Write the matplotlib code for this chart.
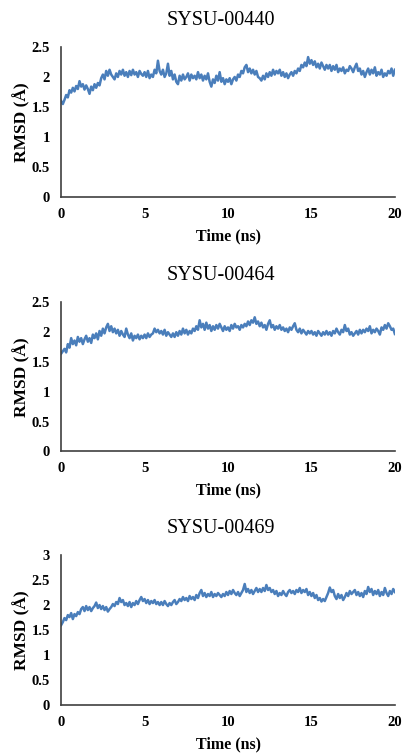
import matplotlib
matplotlib.use("Agg")
import matplotlib.pyplot as plt
import numpy as np

# RMSD traces (Å), every 0.1 ns from 0 to 20 ns
titles = ["SYSU-00440", "SYSU-00464", "SYSU-00469"]

rmsd_00440 = [
    1.60, 1.55, 1.62, 1.70, 1.66, 1.78, 1.74, 1.82, 1.76, 1.85,
    1.80, 1.93, 1.84, 1.88, 1.79, 1.86, 1.80, 1.72, 1.84, 1.78,
    1.88, 1.82, 1.90, 1.86, 1.98, 2.04, 1.96, 2.10, 2.02, 2.12,
    2.04, 2.00, 1.96, 2.06, 2.00, 2.10, 2.04, 2.12, 2.02, 2.08,
    2.00, 2.10, 2.03, 2.12, 2.04, 2.08, 2.00, 2.10, 2.05, 2.02,
    2.08, 2.00, 2.10, 1.98, 2.04, 2.00, 2.12, 2.06, 2.27, 2.10,
    2.04, 2.12, 2.00, 2.06, 2.22, 2.02, 2.10, 1.96, 2.04, 1.92,
    1.88, 2.02, 1.94, 2.04, 1.96, 2.00, 2.06, 1.94, 2.04, 1.98,
    2.02, 1.96, 2.08, 1.98, 2.04, 1.94, 2.02, 1.96, 2.06, 1.92,
    1.84, 1.96, 1.90, 2.02, 1.94, 2.08, 1.92, 1.98, 1.88, 1.96,
    1.92, 1.98, 1.88, 1.96, 2.00, 1.94, 2.04, 2.00, 2.10, 2.06,
    2.16, 2.20, 2.08, 2.14, 2.06, 2.12, 2.04, 2.10, 2.00, 1.98,
    1.94, 2.02, 1.96, 2.06, 2.00, 2.08, 2.02, 2.12, 2.04, 2.10,
    2.06, 2.12, 2.02, 2.08, 2.00, 2.06, 1.98, 2.04, 2.08, 2.02,
    2.10, 2.06, 2.14, 2.10, 2.20, 2.16, 2.24, 2.18, 2.33, 2.22,
    2.28, 2.20, 2.26, 2.16, 2.22, 2.14, 2.24, 2.18, 2.12, 2.20,
    2.14, 2.20, 2.10, 2.18, 2.12, 2.20, 2.08, 2.14, 2.10, 2.16,
    2.06, 2.12, 2.10, 2.18, 2.14, 2.08, 2.16, 2.22, 2.10, 2.14,
    2.04, 2.10, 2.00, 2.08, 2.14, 2.04, 2.12, 2.06, 2.16, 2.02,
    2.08, 2.04, 2.12, 2.00, 2.06, 2.02, 2.10, 2.06, 2.14, 2.02, 2.12,
]

rmsd_00464 = [
    1.64, 1.68, 1.72, 1.66, 1.80, 1.74, 1.90, 1.80, 1.86, 1.78,
    1.92, 1.84, 1.90, 1.80, 1.88, 1.94, 1.84, 1.90, 1.82, 1.96,
    1.90, 1.98, 1.88, 2.02, 1.94, 2.06, 1.98, 2.08, 2.14, 2.02,
    2.10, 2.00, 2.06, 1.98, 2.04, 1.94, 2.02, 1.96, 1.92, 2.06,
    1.96, 1.90, 1.98, 1.86, 1.94, 1.90, 1.96, 1.88, 1.94, 1.90,
    1.96, 1.90, 1.98, 1.92, 1.96, 1.98, 2.06, 2.00, 2.04, 1.98,
    2.02, 1.96, 2.04, 1.94, 2.00, 1.96, 1.92, 1.98, 1.92, 2.00,
    1.94, 2.02, 1.96, 2.06, 1.98, 2.04, 1.96, 2.02, 1.98, 2.06,
    2.02, 2.10, 2.04, 2.20, 2.08, 2.14, 2.04, 2.16, 2.06, 2.12,
    2.02, 2.10, 2.04, 2.12, 2.06, 2.14, 2.08, 2.02, 2.10, 2.04,
    2.08, 2.02, 2.12, 2.06, 2.14, 2.08, 2.10, 2.04, 2.12, 2.08,
    2.14, 2.10, 2.18, 2.12, 2.20, 2.16, 2.25, 2.14, 2.18, 2.10,
    2.16, 2.08, 2.12, 2.04, 2.14, 2.20, 2.08, 2.12, 2.04, 2.10,
    2.06, 2.12, 2.04, 2.08, 2.02, 2.06, 2.00, 2.08, 2.04, 2.10,
    2.15, 2.04, 2.00, 2.06, 1.98, 2.04, 2.00, 1.96, 2.02, 1.98,
    2.02, 1.96, 2.00, 1.94, 2.02, 1.98, 1.94, 2.00, 1.96, 2.02,
    1.96, 2.00, 1.94, 2.02, 1.98, 2.06, 2.00, 1.96, 2.04, 2.00,
    2.12, 2.02, 2.06, 1.96, 2.00, 1.94, 1.98, 2.02, 1.96, 2.04,
    1.98, 2.04, 2.00, 2.06, 2.02, 2.10, 1.98, 2.04, 2.00, 2.06,
    2.02, 1.96, 2.08, 2.04, 2.12, 2.06, 2.15, 2.10, 2.04, 2.06, 1.97,
]

rmsd_00469 = [
    1.60, 1.66, 1.74, 1.70, 1.80, 1.76, 1.84, 1.72, 1.82, 1.78,
    1.86, 1.82, 1.92, 1.96, 1.88, 1.98, 1.90, 1.96, 1.88, 1.94,
    1.98, 2.05, 1.94, 2.00, 1.92, 1.98, 1.90, 1.96, 1.87, 1.92,
    1.96, 2.02, 1.98, 2.06, 2.02, 2.14, 2.06, 2.10, 2.00, 2.04,
    1.98, 2.06, 1.96, 2.04, 2.00, 2.08, 2.02, 2.10, 2.16, 2.08,
    2.12, 2.04, 2.10, 2.02, 2.08, 2.04, 2.10, 2.02, 2.06, 2.00,
    2.06, 2.00, 2.08, 2.02, 1.98, 2.04, 2.00, 2.06, 2.10, 2.02,
    2.06, 2.12, 2.08, 2.16, 2.10, 2.14, 2.08, 2.18, 2.12, 2.16,
    2.10, 2.20, 2.14, 2.24, 2.30, 2.18, 2.24, 2.16, 2.22, 2.18,
    2.26, 2.16, 2.22, 2.18, 2.24, 2.20, 2.16, 2.22, 2.18, 2.26,
    2.20, 2.28, 2.22, 2.30, 2.24, 2.20, 2.26, 2.18, 2.24, 2.30,
    2.42, 2.26, 2.32, 2.24, 2.30, 2.22, 2.28, 2.34, 2.26, 2.32,
    2.26, 2.34, 2.28, 2.40, 2.30, 2.34, 2.26, 2.30, 2.22, 2.28,
    2.18, 2.24, 2.20, 2.28, 2.22, 2.18, 2.26, 2.30, 2.24, 2.28,
    2.22, 2.30, 2.26, 2.34, 2.24, 2.30, 2.26, 2.32, 2.20, 2.26,
    2.18, 2.24, 2.14, 2.20, 2.10, 2.14, 2.07, 2.12, 2.08, 2.16,
    2.24, 2.35, 2.26, 2.30, 2.18, 2.12, 2.22, 2.14, 2.20, 2.10,
    2.16, 2.24, 2.18, 2.28, 2.22, 2.26, 2.30, 2.20, 2.26, 2.18,
    2.24, 2.16, 2.28, 2.22, 2.36, 2.26, 2.32, 2.20, 2.28, 2.22,
    2.30, 2.18, 2.26, 2.20, 2.34, 2.24, 2.18, 2.28, 2.22, 2.32, 2.26,
]

series = [rmsd_00440, rmsd_00464, rmsd_00469]
y_tops = [2.5, 2.5, 3.0]
x_ticks = [0, 5, 10, 15, 20]

plt.rcParams['font.family'] = ['Liberation Serif', 'DejaVu Serif']

fig = plt.figure(figsize=(4.05, 7.56), dpi=100)

# axes boxes in figure fractions [left, bottom, width, height]
boxes = [
    [0.151, 0.739, 0.824, 0.199],
    [0.151, 0.403, 0.824, 0.197],
    [0.151, 0.067, 0.824, 0.199],
]

line_color = '#4A7EBB'
spine_color = '#404040'

for title, vals, ytop, box in zip(titles, series, y_tops, boxes):
    ax = fig.add_axes(box)
    t = np.linspace(0, 20, len(vals))
    ax.plot(t, vals, color=line_color, lw=1.8)

    ax.set_xlim(0, 20)
    ax.set_ylim(0, ytop)
    yt = np.arange(0, ytop + 0.01, 0.5)
    ax.set_xticks(x_ticks)
    ax.set_yticks(yt)
    ax.set_xticklabels([str(v) for v in x_ticks])
    ax.set_yticklabels(['{:g}'.format(v) for v in yt])

    for s in ['top', 'right']:
        ax.spines[s].set_visible(False)
    for s in ['left', 'bottom']:
        ax.spines[s].set_color(spine_color)
        ax.spines[s].set_linewidth(1.2)

    ax.tick_params(length=0, labelsize=10.5, pad=8)
    for lab in ax.get_xticklabels() + ax.get_yticklabels():
        lab.set_fontweight('bold')

    ax.set_title(title, fontsize=14.5, pad=16, x=0.479)
    ax.set_xlabel('Time (ns)', fontsize=11.5, fontweight='bold', labelpad=5)
    ax.set_ylabel('RMSD (Å)', fontsize=12.5, fontweight='bold', labelpad=1)

fig.savefig('out.png', dpi=100)
